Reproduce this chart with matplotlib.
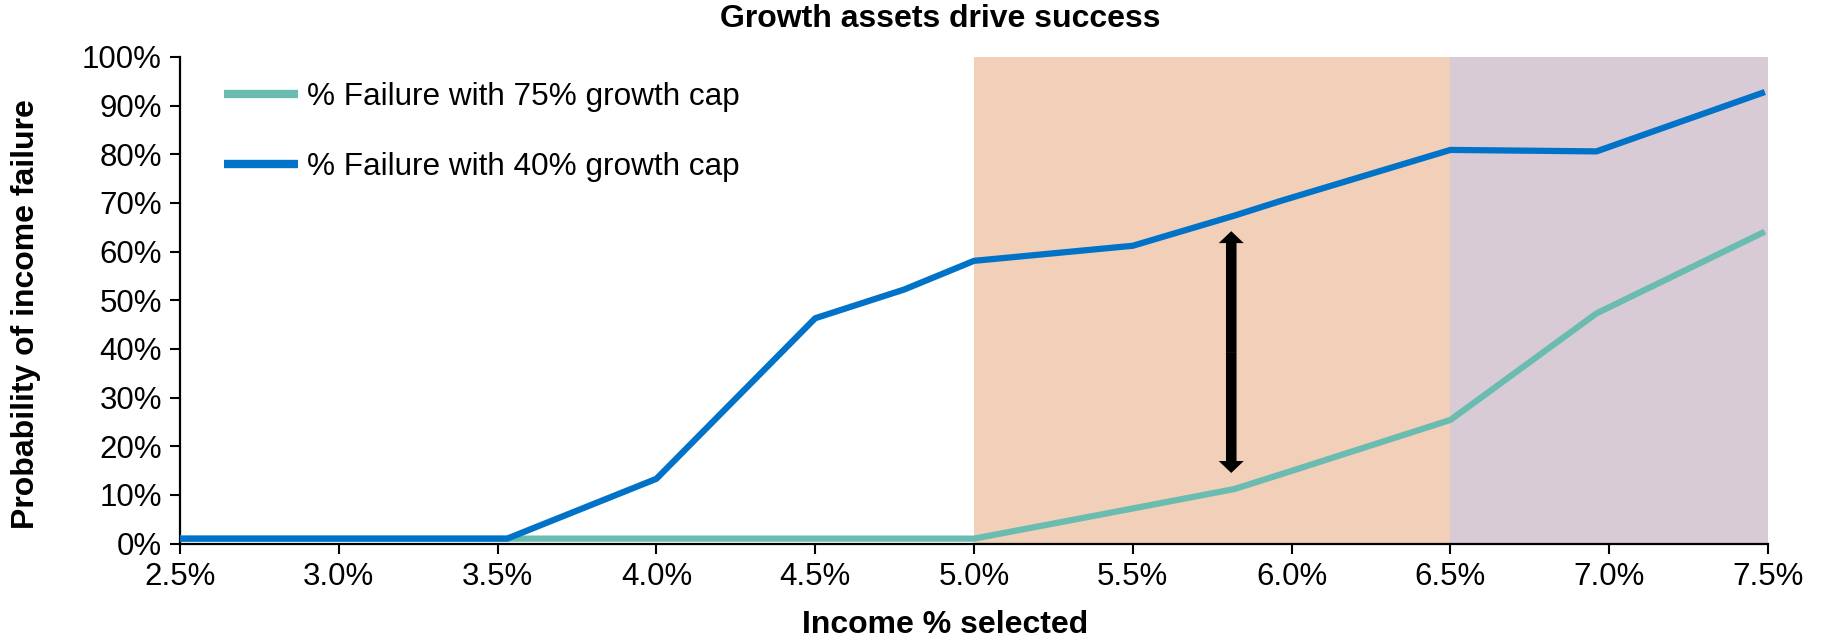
import matplotlib
matplotlib.use("Agg")
import matplotlib.pyplot as plt
from matplotlib.patches import FancyArrowPatch
from matplotlib.ticker import FixedLocator, FuncFormatter

plt.rcParams['font.family'] = ['Liberation Sans', 'DejaVu Sans']

# Income withdrawal rate (%) at each sampled point
income_pct = [2.5, 3.0, 3.53, 4.0, 4.5, 4.78, 5.0, 5.5, 5.82, 5.97, 6.5, 6.96, 7.49]

# Probability of income failure (%)
fail_75_growth = [1.0, 1.0, 1.0, 1.0, 1.0, 1.0, 1.0, 7.2, 11.2, 14.3, 25.4, 47.3, 64.1]
fail_40_growth = [1.0, 1.0, 1.0, 13.3, 46.3, 52.2, 58.1, 61.2, 67.4, 70.5, 80.9, 80.6, 92.8]

series_labels = ["% Failure with 75% growth cap", "% Failure with 40% growth cap"]

x_ticks = [2.5, 3.0, 3.5, 4.0, 4.5, 5.0, 5.5, 6.0, 6.5, 7.0, 7.5]
y_ticks = [0, 10, 20, 30, 40, 50, 60, 70, 80, 90, 100]

# Shaded income bands
band_edges = [5.0, 6.5, 7.5]
band_colors = ["#F2CFB8", "#D9CBD6"]

# Gap marker between the two curves
gap_x = 5.81
gap_low, gap_high = 14.5, 64.2

TEAL = "#6BBCB0"
BLUE = "#0073C8"

W, H = 1825, 642
fig = plt.figure(figsize=(W / 100, H / 100), dpi=100)
ax_left, ax_right, ax_top, ax_bottom = 180, 1768, 57, 543.5
ax = fig.add_axes([ax_left / W, 1 - ax_bottom / H,
                   (ax_right - ax_left) / W, (ax_bottom - ax_top) / H])

for (x0, x1), c in zip(zip(band_edges[:-1], band_edges[1:]), band_colors):
    ax.axvspan(x0, x1, color=c, lw=0, zorder=0)

ax.plot(income_pct, fail_75_growth, color=TEAL, lw=4.5, label=series_labels[0],
        solid_capstyle='butt', zorder=3)
ax.plot(income_pct, fail_40_growth, color=BLUE, lw=4.5, label=series_labels[1],
        solid_capstyle='butt', zorder=4)

# double-headed arrow built from two simple arrows meeting in the middle
mid = (gap_low + gap_high) / 2
style = "simple, head_length=8.6, head_width=18, tail_width=7.6"
for end in (gap_low, gap_high):
    ax.add_patch(FancyArrowPatch((gap_x, mid), (gap_x, end), arrowstyle=style,
                                 mutation_scale=1, color="black", lw=0,
                                 shrinkA=0, shrinkB=0, zorder=5))

ax.set_xlim(2.5, 7.5)
ax.set_ylim(0, 100)
ax.xaxis.set_major_locator(FixedLocator(x_ticks))
ax.yaxis.set_major_locator(FixedLocator(y_ticks))
ax.xaxis.set_major_formatter(FuncFormatter(lambda v, p: f"{v:.1f}%"))
ax.yaxis.set_major_formatter(FuncFormatter(lambda v, p: f"{v:.0f}%"))

for s in ("top", "right"):
    ax.spines[s].set_visible(False)
for s in ("left", "bottom"):
    ax.spines[s].set_linewidth(1.6)
ax.tick_params(axis='both', direction='out', length=7, width=1.5,
               labelsize=22.5, colors='black')
ax.tick_params(axis='y', pad=6)
ax.tick_params(axis='x', pad=6)

leg = ax.legend(loc='upper left', bbox_to_anchor=(0.0277, 0.948), frameon=False,
                fontsize=22.7, handlelength=2.34, handletextpad=0.3,
                labelspacing=1.27, borderpad=0, borderaxespad=0)
for ln in leg.get_lines():
    ln.set_linewidth(6)

fig.text(940 / W, 1 - 19 / H, "Growth assets drive success", ha='center', va='center',
         fontsize=23, fontweight='bold')
fig.text(945 / W, 1 - 625 / H, "Income % selected", ha='center', va='center',
         fontsize=23, fontweight='bold')
fig.text(26 / W, 1 - 314 / H, "Probability of income failure", ha='center', va='center',
         rotation=90, fontsize=23, fontweight='bold')

fig.savefig("out.png", dpi=100)
